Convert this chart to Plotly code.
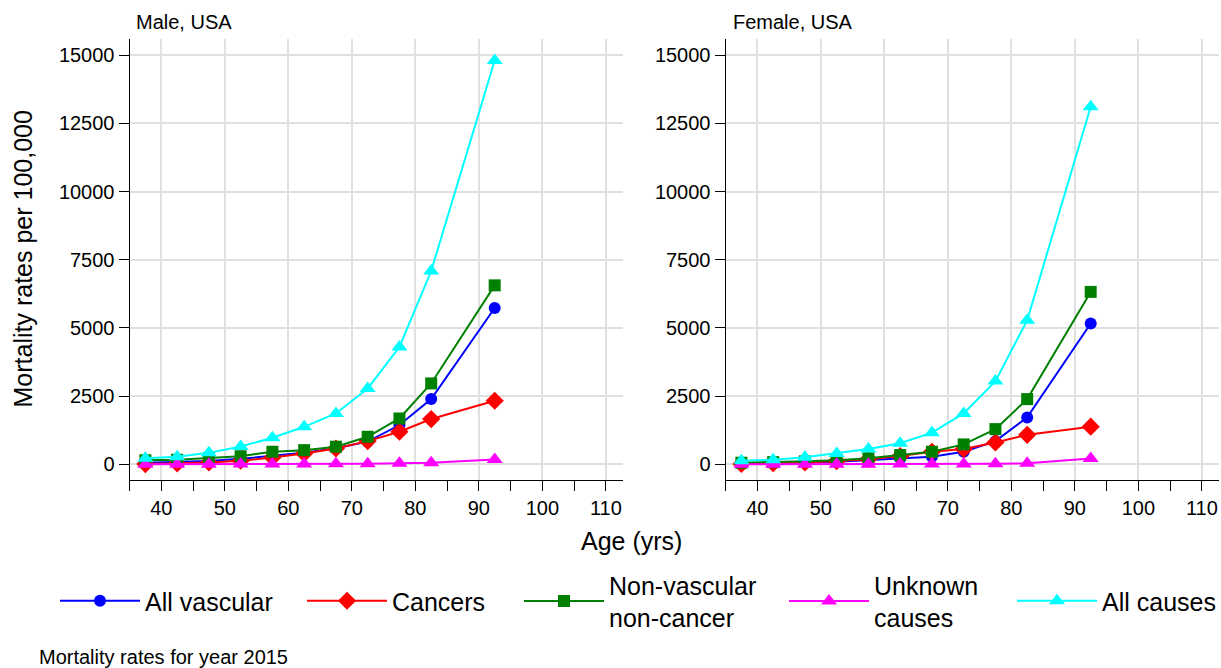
import plotly.graph_objects as go

# Age-group midpoints (years)
ages = [37.5, 42.5, 47.5, 52.5, 57.5, 62.5, 67.5, 72.5, 77.5, 82.5, 92.5]

# Mortality rates per 100,000, males
male_vascular = [60, 80, 120, 200, 300, 420, 585, 830, 1440, 2390, 5730]
male_cancers = [10, 30, 70, 130, 250, 400, 580, 850, 1195, 1660, 2330]
male_nonvasc = [150, 170, 230, 300, 460, 520, 645, 1010, 1680, 2965, 6560]
male_unknown = [5, 5, 5, 10, 10, 15, 20, 25, 35, 60, 180]
male_all = [220, 280, 420, 650, 975, 1375, 1865, 2780, 4300, 7085, 14800]

# Mortality rates per 100,000, females
female_vascular = [30, 40, 60, 90, 160, 220, 280, 460, 850, 1720, 5160]
female_cancers = [15, 40, 70, 120, 190, 300, 460, 560, 800, 1080, 1380]
female_nonvasc = [60, 80, 110, 150, 220, 340, 460, 730, 1290, 2390, 6320]
female_unknown = [3, 3, 3, 5, 5, 10, 10, 15, 20, 40, 210]
female_all = [130, 170, 260, 400, 560, 770, 1160, 1865, 3050, 5280, 13110]

series_names = ["All vascular", "Cancers", "Non-vascular<br>non-cancer",
                "Unknown<br>causes", "All causes"]
series_colors = ["#0000FF", "#FF0000", "#008000", "#FF00FF", "#00FFFF"]
series_symbols = ["circle", "diamond", "square", "triangle-up", "triangle-up"]
series_sizes = [12, 14, 12, 14, 14]

male_series = [male_vascular, male_cancers, male_nonvasc, male_unknown, male_all]
female_series = [female_vascular, female_cancers, female_nonvasc, female_unknown, female_all]

y_ticks = [0, 2500, 5000, 7500, 10000, 12500, 15000]
x_ticks = [40, 50, 60, 70, 80, 90, 100, 110]

FONT = "Liberation Sans, Arial, sans-serif"
W, H = 1221, 668

# one legend per series so each entry sits at its own horizontal slot
legend_ids = ["legend", "legend2", "legend3", "legend4", "legend5"]
legend_x = [55 / W, 302 / W, 519 / W, 784 / W, 1.0]
legend_anchor = ["left", "left", "left", "left", "right"]

fig = go.Figure()

for panel, data in (("x", male_series), ("x2", female_series)):
    for i, vals in enumerate(data):
        fig.add_trace(go.Scatter(
            x=ages, y=vals,
            mode="lines+markers",
            name=series_names[i],
            legendgroup=series_names[i],
            legend=legend_ids[i],
            showlegend=(panel == "x"),
            xaxis=panel, yaxis="y" if panel == "x" else "y2",
            line=dict(color=series_colors[i], width=2),
            marker=dict(symbol=series_symbols[i], size=series_sizes[i],
                        color=series_colors[i], line=dict(width=0)),
        ))

axis_common = dict(
    showline=True, linecolor="black", linewidth=1,
    showgrid=True, gridcolor="#E0E0E0", gridwidth=2,
    zeroline=False, ticks="outside", ticklen=10, tickcolor="black",
    tickfont=dict(family=FONT, size=20, color="black"),
    mirror=False, automargin=False,
)

x_common = dict(axis_common, range=[35, 112.7], tickmode="array",
                tickvals=x_ticks, ticktext=[str(v) for v in x_ticks],
                minor=dict(dtick=5, tick0=35, ticks="outside", ticklen=10,
                           tickcolor="black", showgrid=False))
y_common = dict(axis_common, range=[-575, 15590], tickmode="array",
                tickvals=y_ticks, ticktext=[str(v) for v in y_ticks])

legend_base = dict(
    orientation="h", y=-(601 - 480) / 441, yanchor="middle",
    font=dict(family=FONT, size=25, color="black"),
    bgcolor="rgba(0,0,0,0)", itemwidth=80,
)

layout_legends = {
    lid: dict(legend_base, x=lx, xanchor=anc)
    for lid, lx, anc in zip(legend_ids, legend_x, legend_anchor)
}

fig.update_layout(
    width=W, height=H,
    margin=dict(l=0, r=0, t=39, b=188, autoexpand=False),
    paper_bgcolor="white", plot_bgcolor="white",
    font=dict(family=FONT, color="black"),
    xaxis=dict(x_common, domain=[129.5 / W, 623 / W], anchor="y"),
    yaxis=dict(y_common, anchor="x"),
    xaxis2=dict(x_common, domain=[725.5 / W, 1219 / W], anchor="y2"),
    yaxis2=dict(y_common, anchor="x2"),
    showlegend=True,
    **layout_legends,
)

annotations = [
    dict(text="Male, USA", x=134 / W, y=1 + (39 - 22) / 441, xref="paper",
         yref="paper", xanchor="left", yanchor="middle", showarrow=False,
         font=dict(family=FONT, size=20)),
    dict(text="Female, USA", x=731 / W, y=1 + (39 - 22) / 441, xref="paper",
         yref="paper", xanchor="left", yanchor="middle", showarrow=False,
         font=dict(family=FONT, size=20)),
    dict(text="Mortality rates per 100,000", x=22 / W, y=0.5,
         xref="paper", yref="paper", textangle=-90, showarrow=False,
         xanchor="center", yanchor="middle",
         font=dict(family=FONT, size=25)),
    dict(text="Age (yrs)", x=632 / W, y=-(541 - 480) / 441, xref="paper",
         yref="paper", showarrow=False, xanchor="center", yanchor="middle",
         font=dict(family=FONT, size=25)),
    dict(text="Mortality rates for year 2015", x=37 / W, y=-(657 - 480) / 441,
         xref="paper", yref="paper", showarrow=False, xanchor="left",
         yanchor="middle", font=dict(family=FONT, size=20)),
]
fig.update_layout(annotations=annotations)

fig.write_html("out.html")
